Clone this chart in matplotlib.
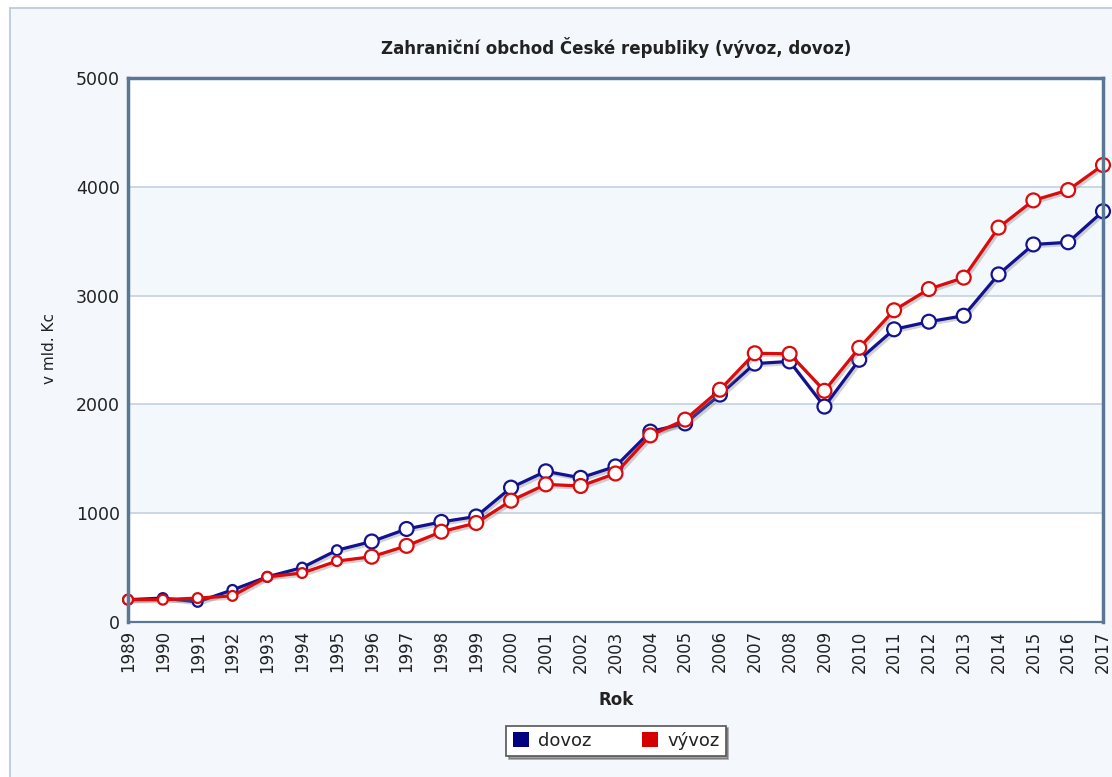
import matplotlib
matplotlib.use("Agg")
import matplotlib.pyplot as plt
from matplotlib.patches import Rectangle, Patch
import matplotlib.patheffects as pe

years = list(range(1989, 2018))
dovoz = [205, 220, 185, 295, 415, 500, 660, 740, 855, 920, 970, 1235, 1385, 1325, 1430,
         1750, 1825, 2090, 2375, 2395, 1980, 2410, 2690, 2760, 2815, 3195, 3470, 3490, 3775]
vyvoz = [205, 205, 220, 240, 415, 450, 560, 600, 700, 830, 910, 1115, 1265, 1250, 1365,
         1715, 1860, 2135, 2470, 2465, 2125, 2520, 2865, 3060, 3165, 3625, 3875, 3970, 4200]
yticks = [0, 1000, 2000, 3000, 4000, 5000]

title = "Zahraniční obchod České republiky (vývoz, dovoz)"
xlabel = "Rok"
ylabel = "v mld. Kc"

BLUE = "#13138f"
RED = "#dc0a0a"
EDGE = "#5a7896"
TXT = "#222222"

fig = plt.figure(figsize=(11.12, 7.77), dpi=100)
fig.patch.set_facecolor("white")
# outer panel
fig.patches.append(Rectangle((10/1112, -0.01), 1.2, 1.01 - 8/777, transform=fig.transFigure,
                             facecolor="#f4f8fc", edgecolor="#b8c8d8", linewidth=1.2, zorder=0))

ax = fig.add_axes([128/1112, 1 - 622/777, 975/1112, 544/777])
ax.set_zorder(2)
ax.set_facecolor("white")
ax.set_xlim(years[0], years[-1])
ax.set_ylim(0, 5000)

for lo in (1000, 3000):
    ax.axhspan(lo, lo + 1000, facecolor="#f3f8fd", edgecolor="none", zorder=0)
for y in yticks[1:-1]:
    ax.axhline(y, color="#c3d2e0", linewidth=1.2, zorder=1)

shadow = [pe.SimpleLineShadow(offset=(1.5, -1.5), shadow_color="gray", alpha=0.35), pe.Normal()]
for data, col, zo in ((dovoz, BLUE, 3), (vyvoz, RED, 4)):
    ax.plot(years, data, color=col, linewidth=2.3, zorder=zo, path_effects=shadow)
    sizes = [50 if i < 7 else 100 for i in range(len(years))]
    ax.scatter(years, data, s=sizes, facecolor="white", edgecolor=col, linewidth=1.6,
               zorder=zo + 0.5, clip_on=False)

ax.set_yticks(yticks)
ax.set_yticklabels([str(v) for v in yticks], fontsize=12.5, color=TXT)
ax.set_xticks(years)
ax.set_xticklabels([str(y) for y in years], rotation=90, fontsize=12, color=TXT)
ax.tick_params(length=0, pad=6)
ax.tick_params(axis="y", pad=6)

for name, s in ax.spines.items():
    s.set_color(EDGE)
    s.set_linewidth(1.6 if name == "bottom" else 2.5)
    s.set_zorder(6)

fig.text(616/1112, 1 - 48/777, title, ha="center", va="center", fontsize=12,
         fontweight="bold", color=TXT)
fig.text(616/1112, 1 - 700/777, xlabel, ha="center", va="center", fontsize=12,
         fontweight="bold", color=TXT)
fig.text(50/1112, 1 - 348/777, ylabel, ha="center", va="center", rotation=90,
         fontsize=11, color=TXT)

handles = [Patch(facecolor="#000080", edgecolor="none", label="dovoz"),
           Patch(facecolor="#d40000", edgecolor="none", label="vývoz")]
leg = fig.legend(handles=handles, loc="center", bbox_to_anchor=(616/1112, 1 - 741/777),
                 ncol=2, fontsize=13, frameon=True, fancybox=False, shadow=True,
                 handlelength=0.9, handleheight=0.9, columnspacing=2.8, handletextpad=0.5,
                 borderpad=0.35)
leg.get_frame().set_edgecolor("#555555")
leg.get_frame().set_linewidth(1.2)
for t in leg.get_texts():
    t.set_color(TXT)

fig.savefig("out.png", dpi=100, facecolor=fig.get_facecolor())
